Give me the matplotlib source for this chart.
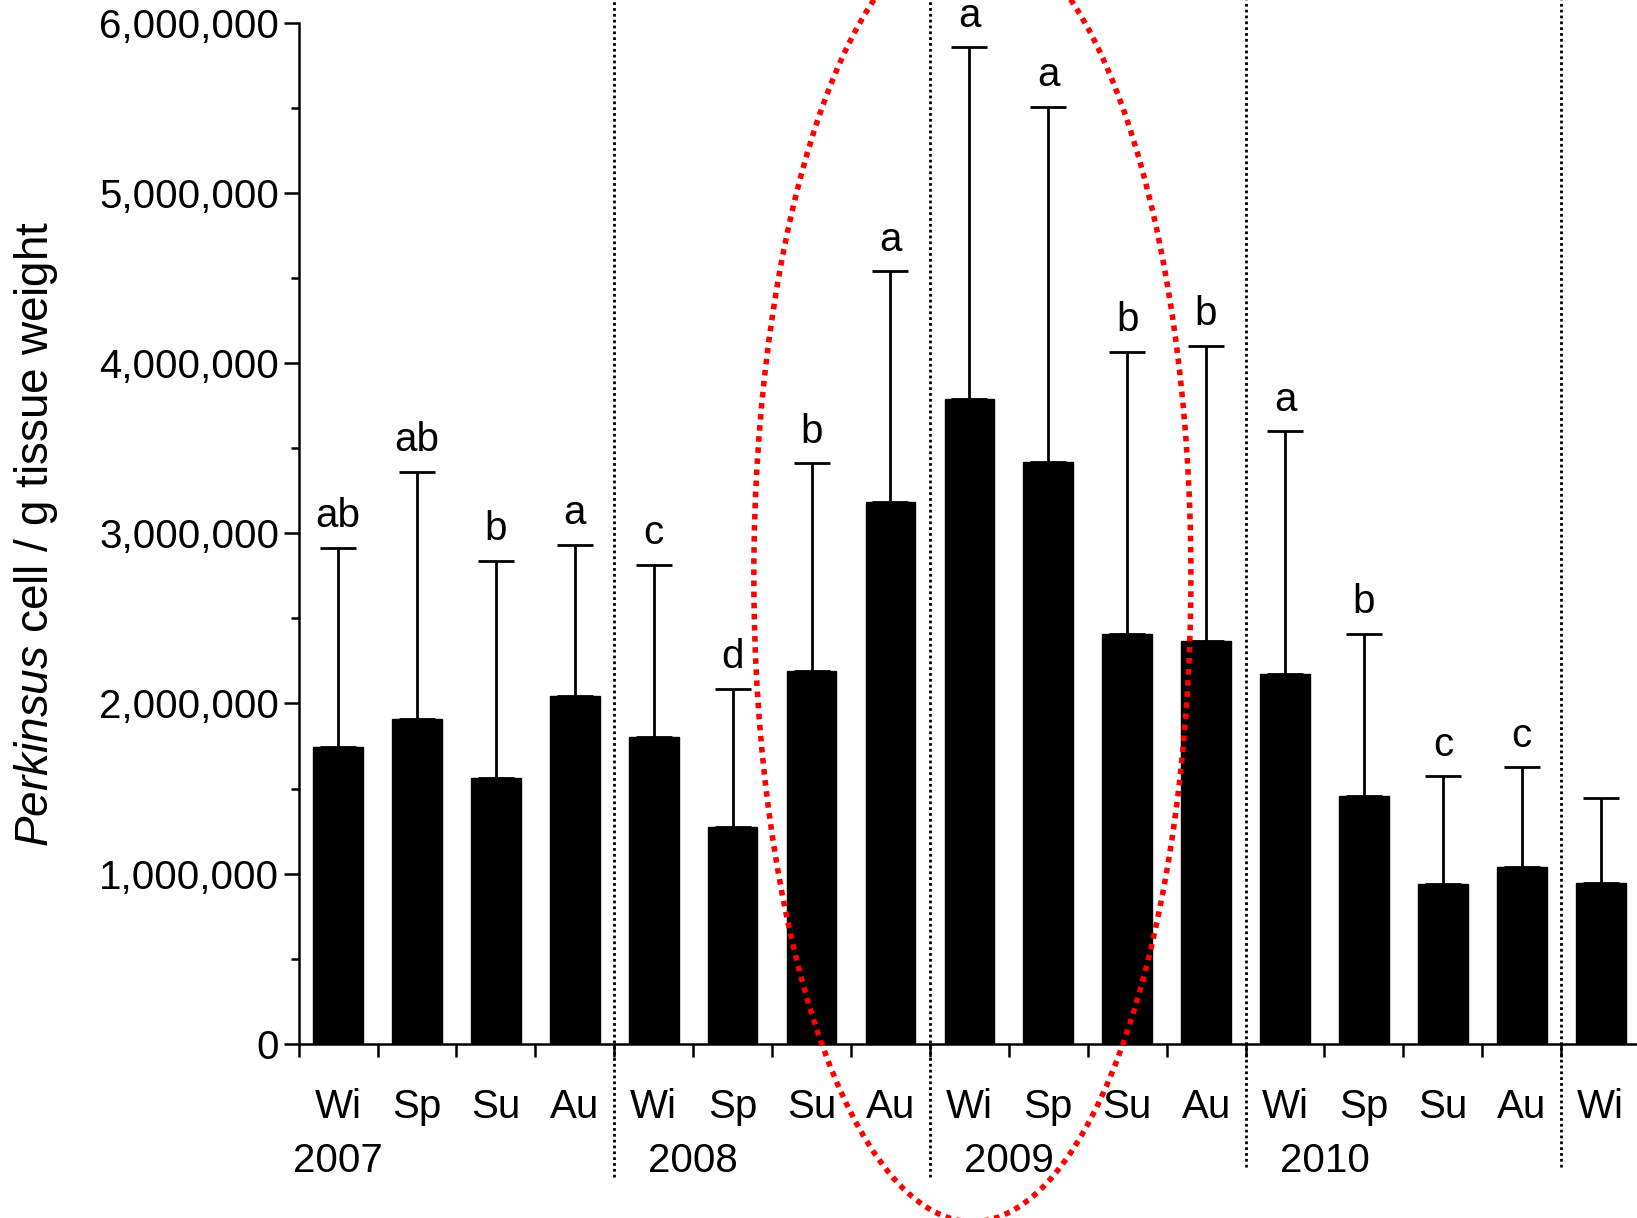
import matplotlib
matplotlib.use("Agg")
import matplotlib.pyplot as plt
import numpy as np
from matplotlib.patches import Ellipse
from matplotlib.lines import Line2D
from matplotlib.ticker import FuncFormatter, MultipleLocator, FixedLocator
import matplotlib.transforms as mtransforms

plt.rcParams['font.family'] = ['Liberation Sans', 'DejaVu Sans']
plt.rcParams['mathtext.fontset'] = 'custom'
plt.rcParams['mathtext.rm'] = 'Liberation Sans'
plt.rcParams['mathtext.it'] = 'Liberation Sans:italic'

seasons = ["Wi", "Sp", "Su", "Au", "Wi", "Sp", "Su", "Au", "Wi", "Sp", "Su", "Au",
           "Wi", "Sp", "Su", "Au", "Wi"]
means = [1742000, 1908000, 1564000, 2043000, 1804000, 1276000, 2190000, 3184000,
         3791000, 3417000, 2411000, 2368000, 2172000, 1454000, 939000, 1037000, 945000]
upper = [2914000, 3362000, 2840000, 2933000, 2816000, 2086000, 3411000, 4540000,
         5859000, 5509000, 4067000, 4104000, 3601000, 2411000, 1571000, 1626000, 1442000]
letters = ["ab", "ab", "b", "a", "c", "d", "b", "a", "a", "a", "b", "b",
           "a", "b", "c", "c", ""]
years = ["2007", "2008", "2009", "2010"]
year_pos = [0, 4.5, 8.5, 12.5]
separators = [3.5, 7.5, 11.5, 15.5]

W, H = 1637, 1218
fig = plt.figure(figsize=(W / 100, H / 100), dpi=100)
ax = fig.add_axes([0.1824, 0.1431, 0.8176, 0.8380])

x = np.arange(len(means))
err = np.array(upper) - np.array(means)
ax.bar(x, means, width=0.63, color='black', edgecolor='black', linewidth=1, zorder=2)
ax.errorbar(x, means, yerr=[np.zeros_like(err), err], fmt='none', ecolor='black',
            elinewidth=2, capsize=13, capthick=2, zorder=3)

for xi, u, lab in zip(x, upper, letters):
    if lab:
        ax.annotate(lab, (xi, u), xytext=(0, 9), textcoords='offset points',
                    ha='center', va='bottom', fontsize=29)

ax.set_xlim(-0.5, 16.46)
ax.set_ylim(0, 6000000)
ax.spines['top'].set_visible(False)
ax.spines['right'].set_visible(False)
ax.spines['left'].set_linewidth(1.8)
ax.spines['bottom'].set_linewidth(1.8)

ax.yaxis.set_major_locator(MultipleLocator(1000000))
ax.yaxis.set_minor_locator(MultipleLocator(500000))
ax.yaxis.set_major_formatter(FuncFormatter(lambda v, p: f"{int(v):,}"))
ax.tick_params(axis='y', which='major', length=11, width=1.8, labelsize=29, pad=3)
ax.tick_params(axis='y', which='minor', length=6, width=1.8)

ax.set_xticks(x)
ax.set_xticklabels(seasons)
ax.xaxis.set_minor_locator(FixedLocator(np.arange(-0.5, 16.5, 1.0)))
ax.tick_params(axis='x', which='major', length=0, labelsize=29, pad=32)
ax.tick_params(axis='x', which='minor', length=9, width=1.8)

ax.set_ylabel(r'$\it{Perkinsus}$ cell / g tissue weight', fontsize=33)
ax.yaxis.set_label_coords(-0.178, 0.5)

trans = mtransforms.blended_transform_factory(ax.transData, fig.transFigure)
for i, s in enumerate(separators):
    ybot = 0.034 if i < 2 else 0.042
    ln = Line2D([s, s], [ybot, 1.0], transform=trans, color='black', lw=2.0,
                linestyle=(0, (1, 1.1)), clip_on=False, zorder=4)
    fig.add_artist(ln)

for xp, yr in zip(year_pos, years):
    fig.text(xp, 0.047, yr, transform=trans, ha='center', va='center', fontsize=29)

ell = Ellipse((0.594, 0.527), 0.267, 1.06, transform=fig.transFigure, fill=False,
              edgecolor='red', lw=4.0, linestyle=(0, (1, 1)), zorder=5)
fig.add_artist(ell)

fig.savefig("out.png", dpi=100)
